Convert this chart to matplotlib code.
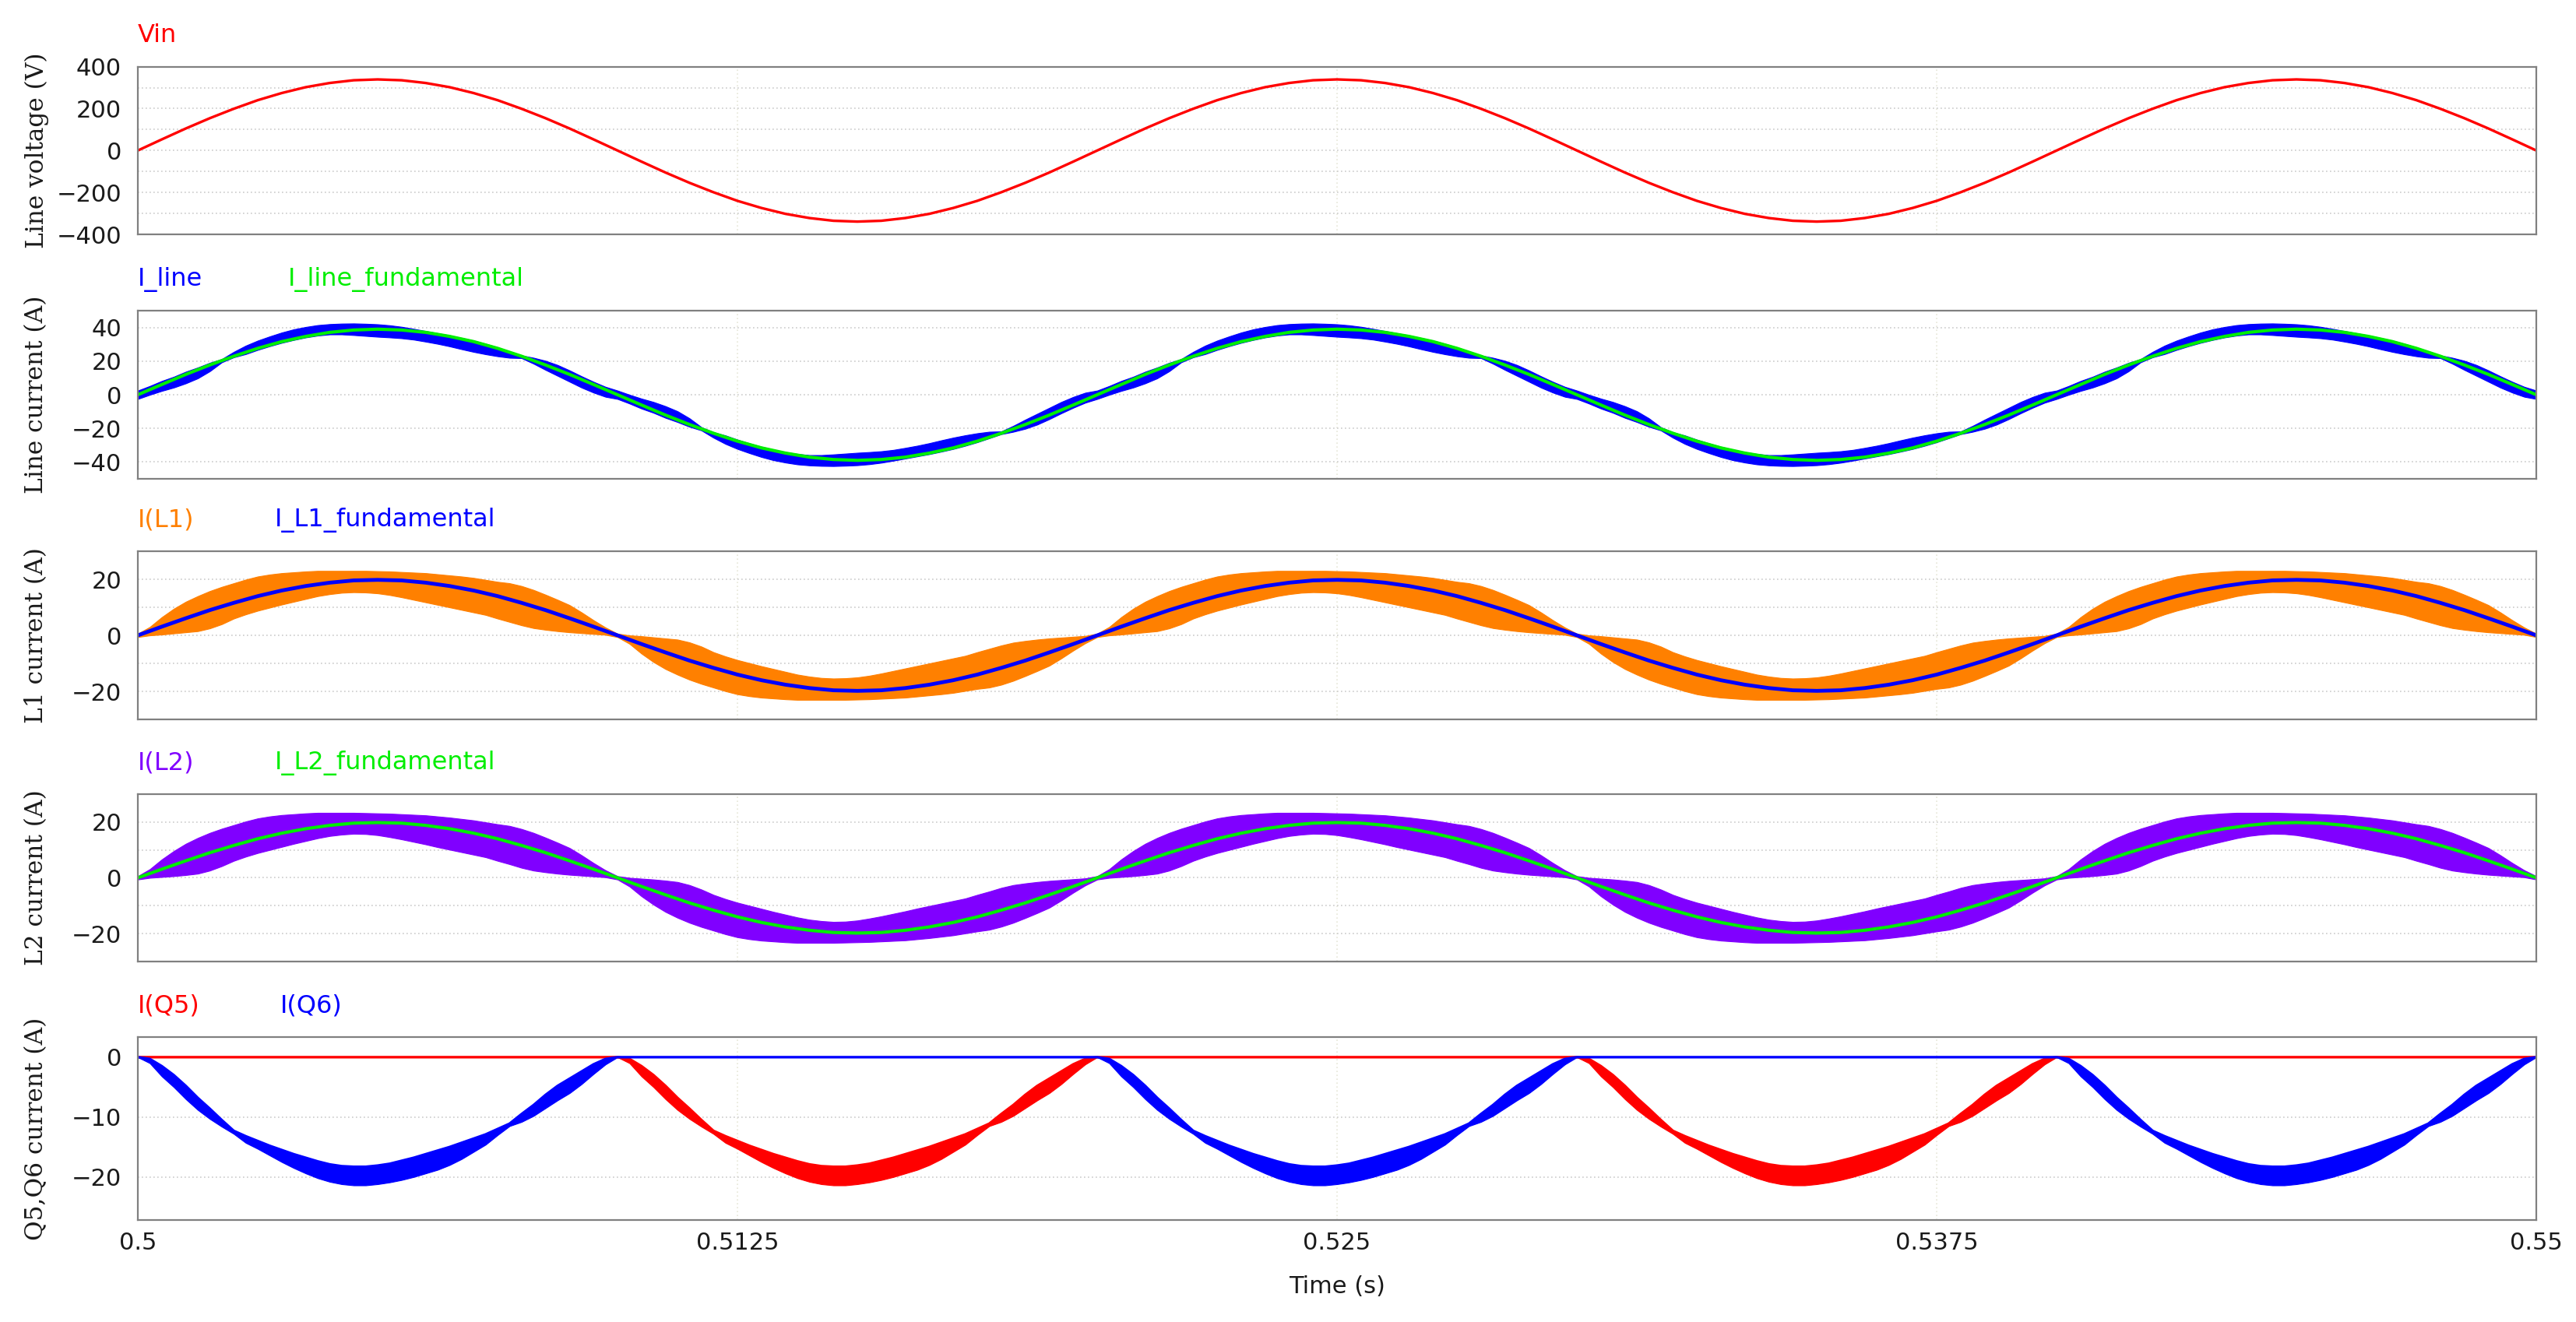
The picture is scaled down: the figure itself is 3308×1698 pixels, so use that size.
import numpy as np
import matplotlib.pyplot as plt
from matplotlib.ticker import MultipleLocator

# one half period of the 50 Hz mains, time in ms from the zero crossing
t_fund = np.linspace(0, 10, 21)   # 0.5 ms step
t_env = np.linspace(0, 10, 41)    # 0.25 ms step

# smooth traces (positive half period)
vin_half = [0, 53, 105, 154, 199, 240, 274, 302, 322, 335, 339,
            335, 322, 302, 274, 240, 199, 154, 105, 53, 0]
iline_fund_half = [0, 6.1, 12.1, 17.7, 22.9, 27.6, 31.6, 34.7, 37.1, 38.5, 39.0,
                   38.5, 37.1, 34.7, 31.6, 27.6, 22.9, 17.7, 12.1, 6.1, 0]
il1_fund_half = [0, 3.1, 6.1, 9.0, 11.6, 14.0, 16.0, 17.6, 18.8, 19.6, 19.8,
                 19.6, 18.8, 17.6, 16.0, 14.0, 11.6, 9.0, 6.1, 3.1, 0]
il2_fund_half = [0, 3.1, 6.1, 9.0, 11.6, 14.0, 16.0, 17.6, 18.8, 19.6, 19.8,
                 19.6, 18.8, 17.6, 16.0, 14.0, 11.6, 9.0, 6.1, 3.1, 0]

# switching ripple envelopes (lower / upper edge), positive half period
iline_lo = [-2.5, 0.0, 2.3, 4.3, 6.8, 9.8, 14.0, 19.3, 22.3, 24.2,
            26.7, 28.9, 30.9, 32.6, 34.1, 35.2, 35.9, 35.9, 35.5, 35.0,
            34.5, 34.1, 33.6, 32.8, 31.6, 30.3, 28.8, 27.1, 25.5, 24.1,
            22.9, 22.0, 21.8, 18.5, 14.8, 11.3, 7.8, 4.3, 1.3, -1.2, -2.5]
iline_hi = [2.5, 5.2, 8.2, 10.7, 13.7, 16.2, 19.0, 21.2, 25.5, 29.2,
            32.2, 34.7, 37.0, 38.9, 40.3, 41.4, 42.0, 42.3, 42.4, 42.2,
            41.9, 41.3, 40.4, 39.2, 37.9, 36.6, 35.3, 33.8, 32.2, 30.3,
            28.2, 25.8, 23.4, 22.0, 20.2, 17.7, 14.5, 11.0, 7.7, 4.7, 2.5]

il1_lo = [-0.6, 0.0, 0.3, 0.7, 1.1, 1.5, 2.5, 4.0, 6.0, 7.5,
          8.8, 9.9, 11.0, 12.0, 13.0, 14.0, 14.7, 15.2, 15.4, 15.3,
          15.0, 14.4, 13.6, 12.7, 11.8, 10.9, 10.0, 9.1, 8.2, 7.3,
          6.0, 4.8, 3.6, 2.6, 2.0, 1.5, 1.1, 0.8, 0.5, 0.2, -0.6]
il1_hi = [0.6, 3.0, 6.5, 9.5, 12.0, 14.0, 15.8, 17.3, 18.6, 19.9,
          21.0, 21.7, 22.2, 22.5, 22.8, 23.0, 23.0, 23.0, 23.0, 23.0,
          22.9, 22.8, 22.6, 22.4, 22.2, 21.8, 21.4, 21.0, 20.5, 19.8,
          19.1, 18.6, 17.6, 16.2, 14.5, 12.7, 10.8, 8.2, 5.4, 2.8, 0.6]

il2_lo = [-0.6, 0.0, 0.3, 0.6, 1.0, 1.5, 2.6, 4.2, 6.1, 7.6,
          8.9, 10.0, 11.1, 12.2, 13.2, 14.2, 15.0, 15.5, 15.8, 15.7,
          15.3, 14.6, 13.8, 12.9, 12.0, 11.0, 10.1, 9.2, 8.3, 7.4,
          6.1, 4.9, 3.6, 2.6, 2.0, 1.5, 1.1, 0.8, 0.5, 0.2, -0.6]
il2_hi = [0.6, 3.1, 6.6, 9.6, 12.2, 14.3, 16.1, 17.6, 18.9, 20.2,
          21.3, 22.0, 22.5, 22.8, 23.1, 23.3, 23.3, 23.3, 23.3, 23.2,
          23.1, 23.0, 22.8, 22.6, 22.4, 22.0, 21.6, 21.1, 20.6, 19.9,
          19.2, 18.6, 17.5, 16.1, 14.4, 12.6, 10.7, 8.1, 5.3, 2.7, 0.6]

# conducting switch current, one half period (negative values)
q_hi = [0.0, -0.3, -1.5, -3.0, -4.8, -6.8, -8.6, -10.5, -12.3, -13.2,
        -14.0, -14.8, -15.5, -16.2, -16.8, -17.4, -17.9, -18.2, -18.3, -18.3,
        -18.1, -17.8, -17.3, -16.8, -16.2, -15.6, -15.0, -14.3, -13.6, -12.9,
        -12.0, -11.1, -9.5, -8.0, -6.3, -4.8, -3.6, -2.4, -1.2, -0.3, 0.0]
q_lo = [0.0, -1.0, -3.2, -5.0, -7.0, -8.8, -10.3, -11.6, -12.8, -14.3,
        -15.3, -16.4, -17.5, -18.5, -19.4, -20.2, -20.8, -21.2, -21.4, -21.4,
        -21.2, -20.9, -20.5, -20.0, -19.4, -18.8, -18.0, -17.0, -15.8, -14.6,
        -13.0, -11.5, -10.8, -9.8, -8.5, -7.2, -6.0, -4.5, -2.8, -1.2, 0.0]

N_HALF = 5  # 0.5 s .. 0.55 s


def full_wave(t_half, lo, hi=None):
    # repeat the half period, mirrored on the negative halves
    lo = np.asarray(lo, float)
    hi = lo if hi is None else np.asarray(hi, float)
    ts, los, his = [], [], []
    for k in range(N_HALF):
        s = 0 if k == 0 else 1
        ts.append(0.5 + (t_half[s:] + 10 * k) / 1000)
        if k % 2 == 0:
            los.append(lo[s:]); his.append(hi[s:])
        else:
            los.append(-hi[s:]); his.append(-lo[s:])
    return np.concatenate(ts), np.concatenate(los), np.concatenate(his)


def switch_wave(active):
    lo = np.asarray(q_lo, float)
    hi = np.asarray(q_hi, float)
    ts, los, his = [], [], []
    for k in range(N_HALF):
        s = 0 if k == 0 else 1
        ts.append(0.5 + (t_env[s:] + 10 * k) / 1000)
        if k % 2 == active:
            los.append(lo[s:]); his.append(hi[s:])
        else:
            los.append(np.zeros(len(t_env) - s)); his.append(np.zeros(len(t_env) - s))
    return np.concatenate(ts), np.concatenate(los), np.concatenate(his)


plt.rcParams['font.family'] = 'DejaVu Sans'

fig = plt.figure(figsize=(33.08, 16.98), dpi=100)

left, width = 0.0535, 0.9311
boxes = [(0.8227, 0.1269), (0.6378, 0.1272), (0.4558, 0.1272),
         (0.2727, 0.1266), (0.0771, 0.1384)]
axes = [fig.add_axes([left, b, width, h]) for b, h in boxes]

RED = '#ff0000'
BLUE = '#0000ff'
GREEN = '#00ee00'
ORANGE = '#ff8000'
PURPLE = '#8000ff'

# Vin
ax = axes[0]
t, v, _ = full_wave(t_fund, vin_half)
ax.plot(t, v, color=RED, lw=2.4)

# line current
ax = axes[1]
t, lo, hi = full_wave(t_env, iline_lo, iline_hi)
ax.fill_between(t, lo, hi, color=BLUE, lw=0.8, edgecolor=BLUE)
t, v, _ = full_wave(t_fund, iline_fund_half)
ax.plot(t, v, color=GREEN, lw=3)

# L1 current
ax = axes[2]
t, lo, hi = full_wave(t_env, il1_lo, il1_hi)
ax.fill_between(t, lo, hi, color=ORANGE, lw=0.8, edgecolor=ORANGE)
t, v, _ = full_wave(t_fund, il1_fund_half)
ax.plot(t, v, color=BLUE, lw=3.5)

# L2 current
ax = axes[3]
t, lo, hi = full_wave(t_env, il2_lo, il2_hi)
ax.fill_between(t, lo, hi, color=PURPLE, lw=0.8, edgecolor=PURPLE)
t, v, _ = full_wave(t_fund, il2_fund_half)
ax.plot(t, v, color=GREEN, lw=3)

# Q5 / Q6
ax = axes[4]
t, lo, hi = switch_wave(1)
ax.fill_between(t, lo, hi, color=RED, lw=0.8, edgecolor=RED)
ax.plot(t, hi, color=RED, lw=2.4)
t, lo, hi = switch_wave(0)
ax.fill_between(t, lo, hi, color=BLUE, lw=0.8, edgecolor=BLUE)
ax.plot(t, hi, color=BLUE, lw=2.4)

ylims = [(-400, 400), (-50, 50), (-30, 30), (-30, 30), (-27.2, 3.35)]
majors = [200, 20, 20, 20, 10]
minors = [100, 20, 10, 10, 10]
ylabels = ['Line voltage (V)', 'Line current (A)', 'L1 current (A)',
           'L2 current (A)', 'Q5,Q6 current (A)']
legends = [[('Vin', RED, 0)],
           [('I_line', BLUE, 0), ('I_line_fundamental', GREEN, 139)],
           [('I(L1)', ORANGE, 0), ('I_L1_fundamental', BLUE, 127)],
           [('I(L2)', PURPLE, 0), ('I_L2_fundamental', GREEN, 127)],
           [('I(Q5)', RED, 0), ('I(Q6)', BLUE, 132)]]

xticks = [0.5, 0.5125, 0.525, 0.5375, 0.55]
xlabels = ['0.5', '0.5125', '0.525', '0.5375', '0.55']

for i, ax in enumerate(axes):
    ax.set_xlim(0.5, 0.55)
    ax.set_ylim(*ylims[i])
    ax.yaxis.set_major_locator(MultipleLocator(majors[i]))
    ax.yaxis.set_minor_locator(MultipleLocator(minors[i]))
    ax.set_xticks(xticks)
    ax.grid(which='both', axis='y', ls=(0, (1, 2)), color='#cccccc', lw=1.2)
    ax.grid(axis='x', ls=(0, (1, 2)), color='#e6e6d8', lw=1.2)
    ax.set_axisbelow(True)
    ax.tick_params(which='both', length=0, labelsize=22, pad=15, colors='#1a1a1a')
    for sp in ax.spines.values():
        sp.set_color('#808080')
        sp.set_linewidth(1.6)
    if i < 4:
        ax.set_xticklabels([])
    else:
        ax.set_xticklabels(xlabels)
        ax.tick_params(axis='x', pad=11)
    b, h = boxes[i]
    fig.text(0.0142, b + h / 2, ylabels[i], rotation=90, ha='center', va='center',
             family='DejaVu Serif', fontsize=22.5, color='#1a1a1a')
    for name, col, dx in legends[i]:
        ax.annotate(name, xy=(0, 1), xycoords='axes fraction', xytext=(dx, 29),
                    textcoords='offset points', ha='left', va='center',
                    color=col, fontsize=23)

fig.text(left + width / 2, 0.027, 'Time (s)', ha='center', va='center',
         fontsize=22, color='#1a1a1a')

fig.savefig('out.png', dpi=100, facecolor='white')
